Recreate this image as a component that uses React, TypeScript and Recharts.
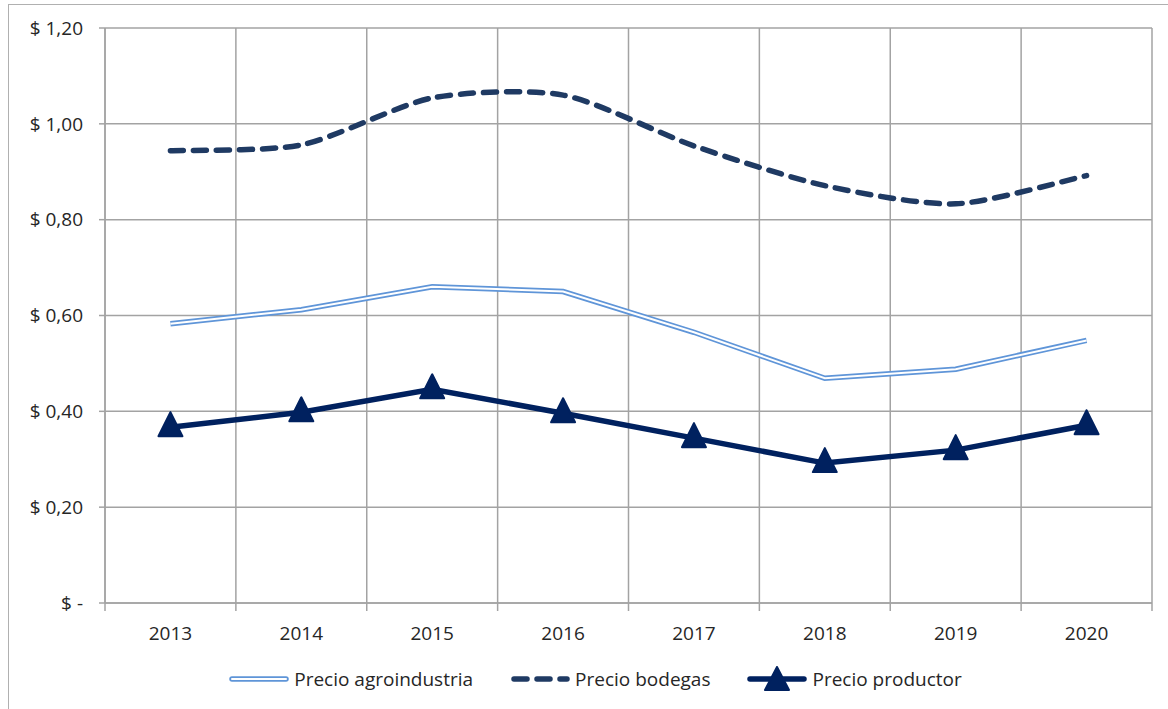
import React from 'react';
import { LineChart, Line, XAxis, YAxis, CartesianGrid } from 'recharts';

const years = ['2013', '2014', '2015', '2016', '2017', '2018', '2019', '2020'];
const agroindustria = [0.583, 0.612, 0.66, 0.65, 0.565, 0.469, 0.488, 0.548];
const bodegas = [0.944, 0.956, 1.054, 1.06, 0.954, 0.871, 0.833, 0.892];
const productor = [0.367, 0.398, 0.446, 0.396, 0.344, 0.292, 0.319, 0.371];
const yTicks = [0, 0.2, 0.4, 0.6, 0.8, 1.0, 1.2];

const data = years.map((year, i) => ({
  year,
  agroindustria: agroindustria[i],
  bodegas: bodegas[i],
  productor: productor[i],
}));

const W = 1168;
const H = 709;
const margin = { top: 28, right: 16, bottom: 46, left: 0 };
const Y_AXIS_W = 105;
const X_AXIS_H = 60;
const PLOT_W = W - margin.right - margin.left - Y_AXIS_W;
const BAND = PLOT_W / years.length;
const PLOT_BOTTOM = H - margin.bottom - X_AXIS_H;

const FONT = '"Open Sans", "Noto Sans", sans-serif';
const TEXT = '#262626';
const GRID = '#a3a3a3';
const AGRO = '#5f95d8';
const BODEGAS = '#1f3a63';
const PRODUCTOR = '#00215f';

const fmtPeso = (v: number) => (v === 0 ? '$ -' : '$ ' + v.toFixed(2).replace('.', ','));

// cardinal-style smoothing, close to the spreadsheet "smoothed line"
const TENSION = 8;
const smoothCurve = (context: any) => {
  let pts: number[][] = [];
  return {
    areaStart() {},
    areaEnd() {},
    lineStart() {
      pts = [];
    },
    point(x: number, y: number) {
      pts.push([+x, +y]);
    },
    lineEnd() {
      if (!pts.length) return;
      context.moveTo(pts[0][0], pts[0][1]);
      for (let i = 0; i < pts.length - 1; i++) {
        const p0 = pts[i - 1] || pts[i];
        const p1 = pts[i];
        const p2 = pts[i + 1];
        const p3 = pts[i + 2] || p2;
        context.bezierCurveTo(
          p1[0] + (p2[0] - p0[0]) / TENSION,
          p1[1] + (p2[1] - p0[1]) / TENSION,
          p2[0] - (p3[0] - p1[0]) / TENSION,
          p2[1] - (p3[1] - p1[1]) / TENSION,
          p2[0],
          p2[1],
        );
      }
    },
  };
};

const XTick = (props: any) => {
  const { x, y, payload, index } = props;
  return (
    <g>
      <text x={x} y={y} dy="0.71em" textAnchor="middle" fill={TEXT} fontSize={19} fontFamily={FONT}>
        {payload.value}
      </text>
      {index === 0 && (
        <line x1={x - BAND / 2} x2={x - BAND / 2} y1={PLOT_BOTTOM} y2={PLOT_BOTTOM + 8} stroke={GRID} strokeWidth={1.5} />
      )}
      <line x1={x + BAND / 2} x2={x + BAND / 2} y1={PLOT_BOTTOM} y2={PLOT_BOTTOM + 8} stroke={GRID} strokeWidth={1.5} />
    </g>
  );
};

const Triangle = (props: any) => {
  const { cx, cy } = props;
  if (cx == null || cy == null) return null;
  return (
    <polygon
      points={`${cx},${cy - 15} ${cx - 12},${cy + 9} ${cx + 12},${cy + 9}`}
      fill={PRODUCTOR}
      stroke={PRODUCTOR}
      strokeWidth={2}
      strokeLinejoin="round"
    />
  );
};

const LegendItem = ({ sample, label }: { sample: React.ReactNode; label: string }) => (
  <div style={{ display: 'flex', alignItems: 'center', marginRight: 37 }}>
    <svg width={60} height={26} style={{ marginRight: 5 }}>
      {sample}
    </svg>
    <span>{label}</span>
  </div>
);

const App = () => {
  return (
    <div style={{ position: 'absolute', left: 0, top: 0, width: W, height: H, background: '#fff', fontFamily: FONT }}>
      <div
        style={{
          position: 'absolute',
          left: 8,
          top: 4,
          right: 0,
          bottom: 0,
          borderLeft: '1.5px solid #b0b0b0',
          borderTop: '1.5px solid #b0b0b0',
        }}
      />
      <div style={{ position: 'absolute', left: 0, top: 0 }}>
        <LineChart width={W} height={H} data={data} margin={margin}>
          <CartesianGrid
            stroke={GRID}
            strokeWidth={1.5}
            verticalCoordinatesGenerator={({ offset }: any) =>
              Array.from({ length: years.length + 1 }, (_, i) => offset.left + (i * offset.width) / years.length)
            }
          />
          <XAxis
            dataKey="year"
            height={X_AXIS_H}
            padding={{ left: BAND / 2, right: BAND / 2 }}
            axisLine={{ stroke: GRID, strokeWidth: 1.5 }}
            tickLine={false}
            tickSize={0}
            tickMargin={24}
            tick={<XTick />}
            interval={0}
          />
          <YAxis
            width={Y_AXIS_W}
            domain={[0, 1.2]}
            ticks={yTicks}
            tickFormatter={fmtPeso}
            axisLine={{ stroke: GRID, strokeWidth: 1.5 }}
            tickLine={{ stroke: GRID, strokeWidth: 1.5 }}
            tickSize={6}
            tickMargin={16}
            tick={{ fill: TEXT, fontSize: 19, fontFamily: FONT }}
          />
          <Line
            dataKey="agroindustria"
            type="linear"
            stroke={AGRO}
            strokeWidth={5.5}
            dot={false}
            isAnimationActive={false}
          />
          <Line
            dataKey="agroindustria"
            type="linear"
            stroke="#ffffff"
            strokeWidth={2}
            dot={false}
            isAnimationActive={false}
          />
          <Line
            dataKey="bodegas"
            type={smoothCurve as any}
            stroke={BODEGAS}
            strokeWidth={5.5}
            strokeDasharray="13 10"
            strokeLinecap="round"
            dot={false}
            isAnimationActive={false}
          />
          <Line
            dataKey="productor"
            type="linear"
            stroke={PRODUCTOR}
            strokeWidth={5.5}
            dot={<Triangle />}
            isAnimationActive={false}
          />
        </LineChart>
      </div>
      <div
        style={{
          position: 'absolute',
          left: 30,
          top: 666,
          width: W,
          display: 'flex',
          justifyContent: 'center',
          fontSize: 19,
          color: TEXT,
        }}
      >
        <LegendItem
          label="Precio agroindustria"
          sample={
            <>
              <line x1={3} x2={57} y1={13} y2={13} stroke={AGRO} strokeWidth={5.5} strokeLinecap="round" />
              <line x1={3} x2={57} y1={13} y2={13} stroke="#fff" strokeWidth={2} strokeLinecap="round" />
            </>
          }
        />
        <LegendItem
          label="Precio bodegas"
          sample={
            <line
              x1={4}
              x2={57}
              y1={13}
              y2={13}
              stroke={BODEGAS}
              strokeWidth={5.5}
              strokeDasharray="13 10"
              strokeLinecap="round"
            />
          }
        />
        <LegendItem
          label="Precio productor"
          sample={
            <>
              <line x1={3} x2={57} y1={13} y2={13} stroke={PRODUCTOR} strokeWidth={5.5} strokeLinecap="round" />
              <polygon points="30,1 18,24 42,24" fill={PRODUCTOR} stroke={PRODUCTOR} strokeWidth={2} strokeLinejoin="round" />
            </>
          }
        />
      </div>
    </div>
  );
};

export default App;
